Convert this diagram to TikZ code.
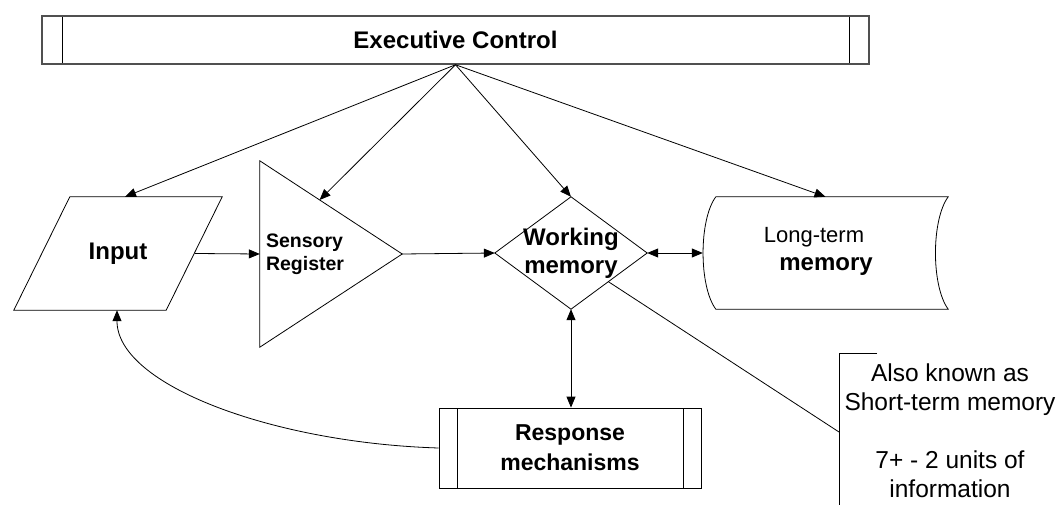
\documentclass[tikz,border=0pt]{standalone}
\usepackage{fontspec}
\setmainfont{Liberation Sans}
\usetikzlibrary{
  arrows.meta,
  positioning,
  calc
}
\definecolor{ink}{HTML}{000000}
\definecolor{frame}{HTML}{505050}
\tikzset{
  base/.style={
    text=ink,
    align=center,
    inner sep=0pt,
  },
  bigbold/.style={
    base,
    font=\bfseries\fontsize{24}{28}\selectfont,
  },
  smallbold/.style={
    base,
    font=\bfseries\fontsize{19.5}{23}\selectfont,
  },
  plain/.style={
    base,
    font=\fontsize{22}{26}\selectfont,
  },
  notetext/.style={
    base,
    font=\fontsize{24.5}{29}\selectfont,
  },
  % invisible frame, outline drawn from its anchors
  shapebox/.style={
    base,
    rectangle,
    draw=none,
  },
  procbox/.style={
    base,
    rectangle,
    draw=ink,
    line width=0.8pt,
    path picture={
      \draw[ink, line width=0.8pt]
        ([xshift=#1]path picture bounding box.north west) --
        ([xshift=#1]path picture bounding box.south west);
      \draw[ink, line width=0.8pt]
        ([xshift=-#1]path picture bounding box.north east) --
        ([xshift=-#1]path picture bounding box.south east);
    },
  },
  procbox/.default=18pt,
  outline/.style={
    draw=ink,
    line width=0.8pt,
    line join=miter,
  },
  flow/.style={
    -{Triangle[length=11pt, width=9pt]},
    line width=0.8pt,
    draw=ink,
  },
  flowboth/.style={
    {Triangle[length=11pt, width=9pt]}-{Triangle[length=11pt, width=9pt]},
    line width=0.8pt,
    draw=ink,
  },
  leader/.style={
    line width=0.8pt,
    draw=ink,
  },
}

\begin{document}
\begin{tikzpicture}[x=1pt, y=-1pt]

\fill[white] (0,0) rectangle (1063,505);
\useasboundingbox (0,0) rectangle (1063,505);

% === TOP: Executive Control ===

\node[procbox=20pt, draw=frame, line width=1.5pt, bigbold,
  minimum width=827pt, minimum height=48pt]
  (exec) at (455.5,40) {Executive Control};

% === ROW: Input -> Sensory -> Working -> Long-term ===

\node[shapebox, bigbold, minimum width=208pt, minimum height=113pt]
  (input) at (118,253.5) {Input};
\draw[outline] ([xshift=56pt]input.north west) -- (input.north east)
  -- ([xshift=-56pt]input.south east) -- (input.south west) -- cycle;

\node[shapebox, minimum width=142pt, minimum height=186pt]
  (sensory) at (331,254) {};
\draw[outline] (sensory.north west) -- (sensory.east)
  -- (sensory.south west) -- cycle;
\node[smallbold, align=left, right=6pt of sensory.west]
  (sensorylbl) {Sensory\\Register};

\node[shapebox, bigbold, minimum width=152pt, minimum height=112pt]
  (wm) at (571,253) {Working\\memory};
\draw[outline] (wm.north) -- (wm.east) -- (wm.south) -- (wm.west) -- cycle;

\node[shapebox, minimum width=245pt, minimum height=112pt]
  (ltm) at (825.5,253) {};
\draw[outline] ([xshift=13pt]ltm.north west) -- (ltm.north east)
  .. controls +(-17,23) and +(-17,-23) .. (ltm.south east)
  -- ([xshift=13pt]ltm.south west)
  .. controls +(-17,-23) and +(-17,23) .. ([xshift=13pt]ltm.north west);
\node[plain] (ltmlbl) at (814,237) {Long-term};
\node[bigbold] (ltmlbl2) at (826,267) {memory};

% Executive control fan-out
\draw[flow] (exec.south) -- ([xshift=7pt]input.north);
\draw[flow] (exec.south) -- ($(sensory.north west)!0.42!(sensory.east)$);
\draw[flow] (exec.south) -- (wm.north);
\draw[flow] (exec.south) -- (ltm.north);

\draw[flow] ([xshift=-27pt]input.east) -- (sensory.west);
\draw[flow] (sensory.east) -- (wm.west);
\draw[flowboth] (wm.east) -- (ltm.west);

% === BOTTOM: Response mechanisms ===

\node[procbox=18pt, bigbold, font=\bfseries\fontsize{23}{30}\selectfont,
  minimum width=262pt, minimum height=80pt]
  (resp) at (570,448) {Response\\mechanisms};

\draw[flowboth] (wm.south) -- (wm.south |- resp.north);
\draw[flow] (resp.west)
  .. controls +(-165,-5) and +(0,75) .. ([xshift=-1pt]input.south);

% === Note on working memory ===

\coordinate (notetop) at (839,353);
\coordinate (notetip) at (839,432);
\node[notetext] (note) at (950,431)
  {Also known as\\Short-term memory\\[29pt]7+ - 2 units of\\information};
\draw[outline] ([xshift=38pt]notetop) -- (notetop) -- (notetop |- 0,515);
\draw[leader] ($(wm.east)!0.51!(wm.south)$) -- (notetip);

\end{tikzpicture}
\end{document}
